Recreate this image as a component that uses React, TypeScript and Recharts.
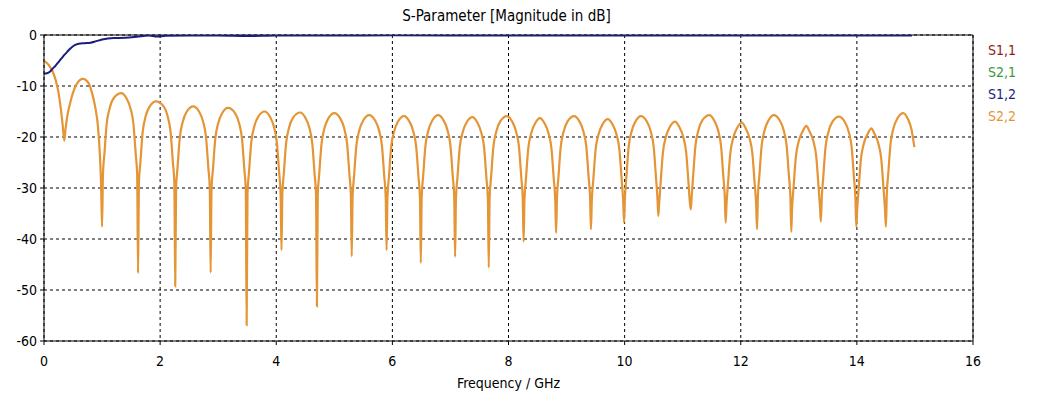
import { LineChart, Line, XAxis, YAxis, CartesianGrid, ReferenceLine } from 'recharts';

const xTicks = [0, 2, 4, 6, 8, 10, 12, 14, 16];
const yTicks = [-60, -50, -40, -30, -20, -10, 0];

const legendNames = ['S1,1', 'S2,1', 'S1,2', 'S2,2'];
const legendColors = ['#8c1c1c', '#3a9a3a', '#1c1c80', '#e49535'];

// S1,2 [freq GHz, dB]
const s12: [number, number][] = [
  [0, -7.6], [0.05, -7.5], [0.1, -7.2], [0.15, -6.6], [0.2, -6.0], [0.25, -5.3], [0.3, -4.6],
  [0.35, -3.9], [0.4, -3.3], [0.45, -2.7], [0.5, -2.2], [0.55, -1.9], [0.6, -1.7], [0.7, -1.6],
  [0.8, -1.5], [0.9, -1.2], [1.0, -0.9], [1.1, -0.7], [1.2, -0.6], [1.4, -0.55], [1.6, -0.35],
  [1.8, -0.1], [1.95, -0.3], [2.1, -0.15], [2.5, -0.1], [3.0, -0.1], [3.5, -0.2], [4.0, -0.1],
  [5.0, -0.1], [6.0, -0.05], [7.0, -0.1], [8.0, -0.1], [9.0, -0.1], [10.0, -0.1], [11.0, -0.1],
  [12.0, -0.1], [13.0, -0.1], [14.0, -0.1], [14.95, -0.1],
];

// S2,2 [freq GHz, dB]
const s22Low: [number, number][] = [
  [0, -5.1], [0.05, -5.5], [0.1, -6.2], [0.15, -7.2], [0.2, -8.8], [0.25, -11.3], [0.29, -14.5], [0.32, -17.5], [0.35, -20.7],
  [0.37, -18.5], [0.4, -16], [0.44, -13.8], [0.5, -11.3], [0.57, -9.5], [0.67, -8.6], [0.77, -9.5], [0.83, -11.5], [0.88, -14], [0.93, -18], [0.96, -23], [0.985, -30], [1.0, -37.6],
  [1.015, -27.4], [1.04, -23.4], [1.08, -17.4], [1.13, -14.4], [1.2, -12.4], [1.33, -11.4], [1.42, -12.4], [1.49, -14.4], [1.54, -17.4], [1.58, -23.4], [1.605, -27.4], [1.62, -46.7],
  [1.635, -29], [1.66, -25], [1.7, -19], [1.75, -16], [1.82, -14], [1.93, -13.0], [2.06, -14], [2.13, -16], [2.18, -19], [2.22, -25], [2.245, -29], [2.26, -49.3],
  [2.275, -30], [2.3, -26], [2.34, -20], [2.39, -17], [2.46, -15], [2.57, -14.0], [2.67, -15], [2.74, -17], [2.79, -20], [2.83, -26], [2.855, -30], [2.87, -46.6],
  [2.885, -30.3], [2.91, -26.3], [2.95, -20.3], [3.0, -17.3], [3.07, -15.3], [3.17, -14.3], [3.29, -15.3], [3.36, -17.3], [3.41, -20.3], [3.45, -26.3], [3.475, -30.3], [3.49, -56.9],
  [3.505, -31], [3.53, -27], [3.57, -21], [3.62, -18], [3.69, -16], [3.8, -15.0], [3.89, -16], [3.96, -18], [4.01, -21], [4.05, -27], [4.075, -31], [4.09, -42.2],
];

const s22Mid: [number, number][] = [
  [4.105, -31.2], [4.13, -27.2], [4.17, -21.2], [4.22, -18.2], [4.29, -16.2], [4.41, -15.2], [4.5, -16.2], [4.57, -18.2], [4.62, -21.2], [4.66, -27.2], [4.685, -31.2], [4.7, -53.2],
  [4.715, -31.3], [4.74, -27.3], [4.78, -21.3], [4.83, -18.3], [4.9, -16.3], [5.0, -15.3], [5.1, -16.3], [5.17, -18.3], [5.22, -21.3], [5.26, -27.3], [5.285, -31.3], [5.3, -43.4],
  [5.315, -31.7], [5.34, -27.7], [5.38, -21.7], [5.43, -18.7], [5.5, -16.7], [5.6, -15.7], [5.7, -16.7], [5.77, -18.7], [5.82, -21.7], [5.86, -27.7], [5.885, -31.7], [5.9, -42.2],
  [5.915, -31.9], [5.94, -27.9], [5.98, -21.9], [6.03, -18.9], [6.1, -16.9], [6.2, -15.9], [6.29, -16.9], [6.36, -18.9], [6.41, -21.9], [6.45, -27.9], [6.475, -31.9], [6.49, -44.7],
  [6.505, -31.7], [6.53, -27.7], [6.57, -21.7], [6.62, -18.7], [6.69, -16.7], [6.79, -15.7], [6.88, -16.7], [6.95, -18.7], [7.0, -21.7], [7.04, -27.7], [7.065, -31.7], [7.08, -43.5],
  [7.095, -32.1], [7.12, -28.1], [7.16, -22.1], [7.21, -19.1], [7.28, -17.1], [7.38, -16.1], [7.46, -17.1], [7.53, -19.1], [7.58, -22.1], [7.62, -28.1], [7.645, -32.1], [7.66, -45.6],
  [7.675, -31.9], [7.7, -27.9], [7.74, -21.9], [7.79, -18.9], [7.86, -16.9], [7.97, -15.9], [8.06, -16.9], [8.13, -18.9], [8.18, -21.9], [8.22, -27.9], [8.245, -31.9], [8.26, -40.5],
  [8.275, -32.3], [8.3, -28.3], [8.34, -22.3], [8.39, -19.3], [8.46, -17.3], [8.54, -16.3], [8.62, -17.3], [8.69, -19.3], [8.74, -22.3], [8.78, -28.3], [8.805, -32.3], [8.82, -38.8],
  [8.835, -31.9], [8.86, -27.9], [8.9, -21.9], [8.95, -18.9], [9.02, -16.9], [9.13, -15.9], [9.22, -16.9], [9.29, -18.9], [9.34, -21.9], [9.38, -27.9], [9.405, -31.9], [9.42, -38.1],
  [9.435, -32.5], [9.46, -28.5], [9.5, -22.5], [9.55, -19.5], [9.62, -17.5], [9.71, -16.5], [9.79, -17.5], [9.86, -19.5], [9.91, -22.5], [9.95, -28.5], [9.975, -32.5], [9.99, -36.8],
];

const s22High: [number, number][] = [
  [10.005, -31.9], [10.03, -27.9], [10.07, -21.9], [10.12, -18.9], [10.19, -16.9], [10.28, -15.9], [10.38, -16.9], [10.45, -18.9], [10.5, -21.9], [10.54, -27.9], [10.565, -31.9], [10.58, -35.5],
  [10.595, -33.0], [10.62, -29.0], [10.66, -23.0], [10.71, -20.0], [10.78, -18.0], [10.87, -17.0], [10.94, -18.0], [11.01, -20.0], [11.06, -23.0], [11.1, -29.0], [11.125, -33.0], [11.14, -34.2],
  [11.155, -31.7], [11.18, -27.7], [11.22, -21.7], [11.27, -18.7], [11.34, -16.7], [11.46, -15.7], [11.54, -16.7], [11.61, -18.7], [11.66, -21.7], [11.7, -27.7], [11.725, -31.7], [11.74, -36.8],
  [11.755, -33.2], [11.78, -29.2], [11.82, -23.2], [11.87, -20.2], [11.94, -18.2], [12.02, -17.2], [12.08, -18.2], [12.15, -20.2], [12.2, -23.2], [12.24, -29.2], [12.265, -33.2], [12.28, -38.1],
  [12.295, -31.7], [12.32, -27.7], [12.36, -21.7], [12.41, -18.7], [12.48, -16.7], [12.57, -15.7], [12.67, -16.7], [12.74, -18.7], [12.79, -21.7], [12.83, -27.7], [12.855, -31.7], [12.87, -38.6],
  [12.885, -33.8], [12.91, -29.8], [12.95, -23.8], [13.0, -20.8], [13.07, -18.8], [13.13, -17.8], [13.18, -18.8], [13.25, -20.8], [13.3, -23.8], [13.34, -29.8], [13.365, -33.8], [13.38, -36.6],
  [13.395, -32.0], [13.42, -28.0], [13.46, -22.0], [13.51, -19.0], [13.58, -17.0], [13.69, -16.0], [13.79, -17.0], [13.86, -19.0], [13.91, -22.0], [13.95, -28.0], [13.975, -32.0], [13.99, -37.6],
  [14.005, -34.3], [14.03, -30.3], [14.07, -24.3], [14.12, -21.3], [14.19, -19.3], [14.25, -18.3], [14.3, -19.3], [14.37, -21.3], [14.42, -24.3], [14.46, -30.3], [14.485, -34.3], [14.5, -37.6],
  [14.515, -31.3], [14.54, -27.3], [14.58, -21.3], [14.63, -18.3], [14.7, -16.3], [14.8, -15.3], [14.88, -16.5], [14.94, -18.5], [14.99, -22.0],
];

const toRows = (pts: [number, number][]) => pts.map(([f, db]) => ({ f, db }));

const s12Rows = toRows(s12);
const s22Rows = toRows([...s22Low, ...s22Mid, ...s22High]);

const FONT = '"DejaVu Sans Condensed", "DejaVu Sans", Tahoma, sans-serif';
const tickStyle = { fill: '#000', fontSize: 14, fontFamily: FONT };

export default function App() {
  return (
    <div style={{ position: 'absolute', left: 0, top: 0, width: 1040, height: 396, background: '#fff', fontFamily: FONT }}>
      <div style={{ position: 'absolute', left: 44, width: 925, top: 7, textAlign: 'center', fontSize: 15, color: '#000' }}>
        S-Parameter [Magnitude in dB]
      </div>
      <LineChart width={1040} height={396} margin={{ top: 35, right: 67, bottom: 25, left: 0 }}>
        <CartesianGrid strokeDasharray="3 3" stroke="#000" />
        <XAxis
          type="number"
          dataKey="f"
          domain={[0, 16]}
          ticks={xTicks}
          height={30}
          tickSize={4}
          tickMargin={11}
          axisLine={{ stroke: '#000' }}
          tickLine={{ stroke: '#000' }}
          tick={tickStyle}
          allowDataOverflow
        />
        <YAxis
          type="number"
          domain={[-60, 0]}
          ticks={yTicks}
          width={44}
          tickSize={4}
          tickMargin={3}
          axisLine={{ stroke: '#000' }}
          tickLine={{ stroke: '#000' }}
          tick={tickStyle}
          allowDataOverflow
        />
        <ReferenceLine y={0} stroke="#000" />
        <ReferenceLine x={16} stroke="#000" />
        <Line data={s22Rows} dataKey="db" type="monotone" stroke="#e49535" strokeWidth={2.2} dot={false} isAnimationActive={false} />
        <Line data={s12Rows} dataKey="db" type="monotone" stroke="#1c1c80" strokeWidth={2} dot={false} isAnimationActive={false} />
      </LineChart>
      <div style={{ position: 'absolute', left: 44, width: 929, top: 375, textAlign: 'center', fontSize: 14, color: '#000' }}>
        Frequency / GHz
      </div>
      {legendNames.map((name, i) => (
        <div key={name} style={{ position: 'absolute', left: 988, top: 42 + i * 22, fontSize: 14, color: legendColors[i] }}>
          {name}
        </div>
      ))}
    </div>
  );
}
